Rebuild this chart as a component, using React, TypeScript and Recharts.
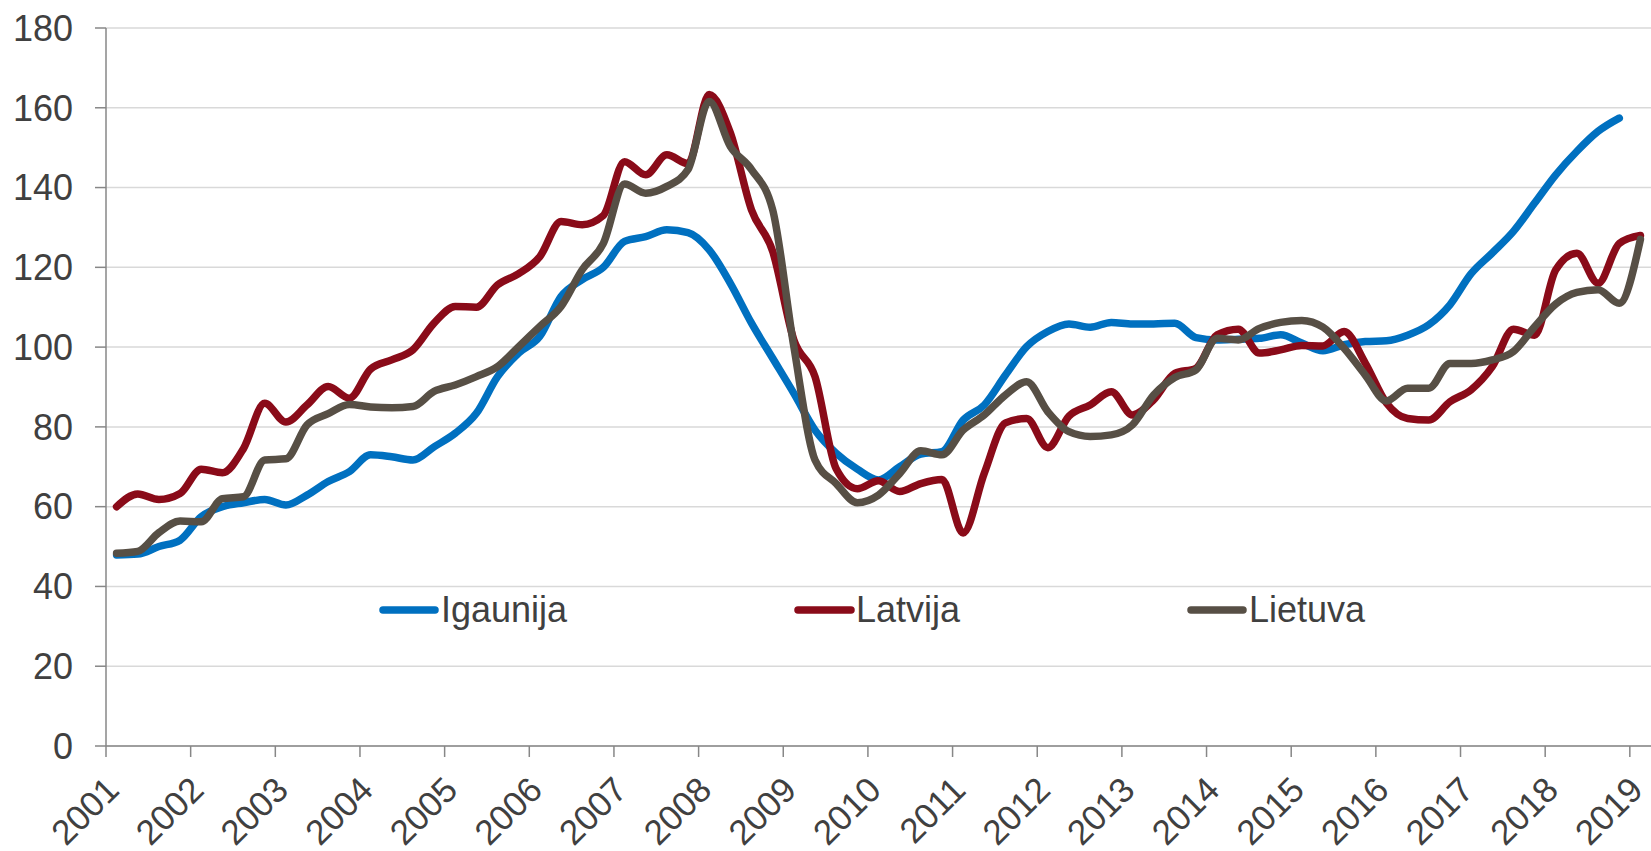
import React from 'react';
import { LineChart, Line, XAxis, YAxis, CartesianGrid, Legend } from 'recharts';

// Year tick labels on the x axis
const years = [2001, 2002, 2003, 2004, 2005, 2006, 2007, 2008, 2009, 2010, 2011, 2012, 2013, 2014, 2015, 2016, 2017, 2018, 2019];
const yTicks = [0, 20, 40, 60, 80, 100, 120, 140, 160, 180];

// Quarterly values, 2001 Q1 ... 2019 Q1
const igaunija = [
  47.9, 48.1, 50, 51.6, 57.5, 60, 61, 61.8, 60.4, 62.9, 66.3, 68.8,
  73, 72.5, 71.7, 75, 78.4, 83.4, 92.6, 98.5, 102.7, 112.7, 116.9, 120,
  126.5, 127.7, 129.4, 128.7, 124.4, 116, 106, 97.2, 88.4, 79.2, 73.4, 69.4,
  66.7, 70, 73.2, 73.8, 81.7, 85.5, 93, 100.1, 103.9, 105.8, 105, 106.2,
  105.8, 105.8, 106, 102.4, 101.8, 102, 102.2, 103.1, 101, 99.1, 100.6, 101.4,
  101.6, 103, 105.6, 110.6, 118.4, 123.6, 129, 136.1, 143.2, 149.1, 154.1, 157.4,
];
const latvija = [
  60, 63.2, 61.8, 63.3, 69.4, 68.5, 74.6, 85.9, 81.2, 85.5, 90.1, 87.2,
  94.5, 96.8, 99.3, 106, 110.2, 110, 115.6, 118.4, 122.7, 131.5, 130.7, 133,
  146.5, 143.2, 148.2, 146, 163.3, 153.7, 134.4, 124, 101.8, 92.6, 69.5, 64.5,
  66.5, 63.8, 65.8, 66.8, 53.4, 68.4, 81, 82.1, 74.8, 82.7, 85.5, 88.8,
  83, 86.8, 93.4, 94.7, 103.1, 104.5, 98.5, 99.3, 100.4, 100.3, 103.9, 96,
  86, 82.1, 81.7, 86.3, 89.3, 95.1, 104.5, 103, 119.4, 123.5, 116, 126,
  128,
];
const lietuva = [
  48.3, 48.8, 53.5, 56.4, 56.2, 62, 62.5, 71.7, 72, 80.5, 83.3, 85.6,
  85, 84.8, 85.1, 88.9, 90.5, 92.6, 95.1, 100.1, 105.2, 110.2, 119.4, 126,
  140.9, 138.6, 140.3, 144.5, 161.6, 150.3, 144.5, 134.4, 100.1, 71.7, 65.8, 61,
  62.9, 68.3, 74, 73, 79.2, 83, 88, 91.3, 83.8, 78.8, 77.6, 78,
  80.5, 88, 92.4, 94.3, 102.2, 101.8, 104.7, 106.2, 106.7, 105, 99.7, 93,
  86.5, 89.7, 89.7, 95.9, 95.9, 96.8, 98.9, 105.1, 110.8, 113.7, 114.4, 111,
  127,
];

const seriesNames = ['Igaunija', 'Latvija', 'Lietuva'];
const seriesColors = ['#0070C0', '#8A0B19', '#574F45'];

const data = latvija.map((_, i) => ({
  x: 2001 + (i + 0.5) / 4,
  Igaunija: i < igaunija.length ? igaunija[i] : null,
  Latvija: latvija[i],
  Lietuva: lietuva[i],
}));

const FONT = '"Liberation Sans", Arial, Helvetica, sans-serif';
const TEXT = '#404040';
const AXIS = '#878787';

const XTick = (props: any) => {
  const { x, y, payload } = props;
  const ax = x + 15;
  const ay = y + 33;
  return (
    <text
      x={ax}
      y={ay}
      textAnchor="end"
      fontSize={35}
      fontFamily={FONT}
      fill={TEXT}
      transform={`rotate(-45, ${ax}, ${ay})`}
    >
      {payload.value}
    </text>
  );
};

const legendPos = [
  { x1: 383, x2: 435, tx: 441 },
  { x1: 798, x2: 851, tx: 856 },
  { x1: 1191, x2: 1243, tx: 1249 },
];

const LegendContent = () => (
  <svg width={1651} height={60} style={{ display: 'block' }}>
    {seriesNames.map((name, i) => (
      <g key={name}>
        <line
          x1={legendPos[i].x1}
          x2={legendPos[i].x2}
          y1={30}
          y2={30}
          stroke={seriesColors[i]}
          strokeWidth={7.5}
          strokeLinecap="round"
        />
        <text x={legendPos[i].tx} y={42} fontSize={36} fontFamily={FONT} fill={TEXT}>
          {name}
        </text>
      </g>
    ))}
  </svg>
);

export default function App() {
  return (
    <div
      style={{
        position: 'absolute',
        left: 0,
        top: 0,
        width: 1651,
        height: 851,
        overflow: 'hidden',
        background: '#ffffff',
        fontFamily: FONT,
      }}
    >
      <LineChart
        width={1651}
        height={851}
        data={data}
        margin={{ top: 28, right: 0, bottom: 0, left: 0 }}
      >
        <CartesianGrid vertical={false} stroke="#D9D9D9" strokeWidth={1.5} />
        <XAxis
          type="number"
          dataKey="x"
          domain={[2001, 2019.25]}
          ticks={years}
          interval={0}
          allowDataOverflow
          height={105}
          tickSize={11}
          tickMargin={2}
          axisLine={{ stroke: AXIS, strokeWidth: 1.5 }}
          tickLine={{ stroke: AXIS, strokeWidth: 1.5 }}
          tick={<XTick />}
        />
        <YAxis
          type="number"
          domain={[0, 180]}
          ticks={yTicks}
          interval={0}
          width={106}
          tickSize={11}
          tickMargin={22}
          axisLine={{ stroke: AXIS, strokeWidth: 1.5 }}
          tickLine={{ stroke: AXIS, strokeWidth: 1.5 }}
          tick={{ fontSize: 36, fill: TEXT, fontFamily: FONT }}
        />
        <Legend
          layout="horizontal"
          verticalAlign="middle"
          align="center"
          content={<LegendContent />}
          wrapperStyle={{ position: 'absolute', left: 0, top: 580, width: 1651, height: 60 }}
        />
        {seriesNames.map((name, i) => (
          <Line
            key={name}
            type="monotone"
            dataKey={name}
            stroke={seriesColors[i]}
            strokeWidth={7.5}
            strokeLinecap="round"
            strokeLinejoin="round"
            dot={false}
            activeDot={false}
            isAnimationActive={false}
            connectNulls={false}
          />
        ))}
      </LineChart>
    </div>
  );
}
